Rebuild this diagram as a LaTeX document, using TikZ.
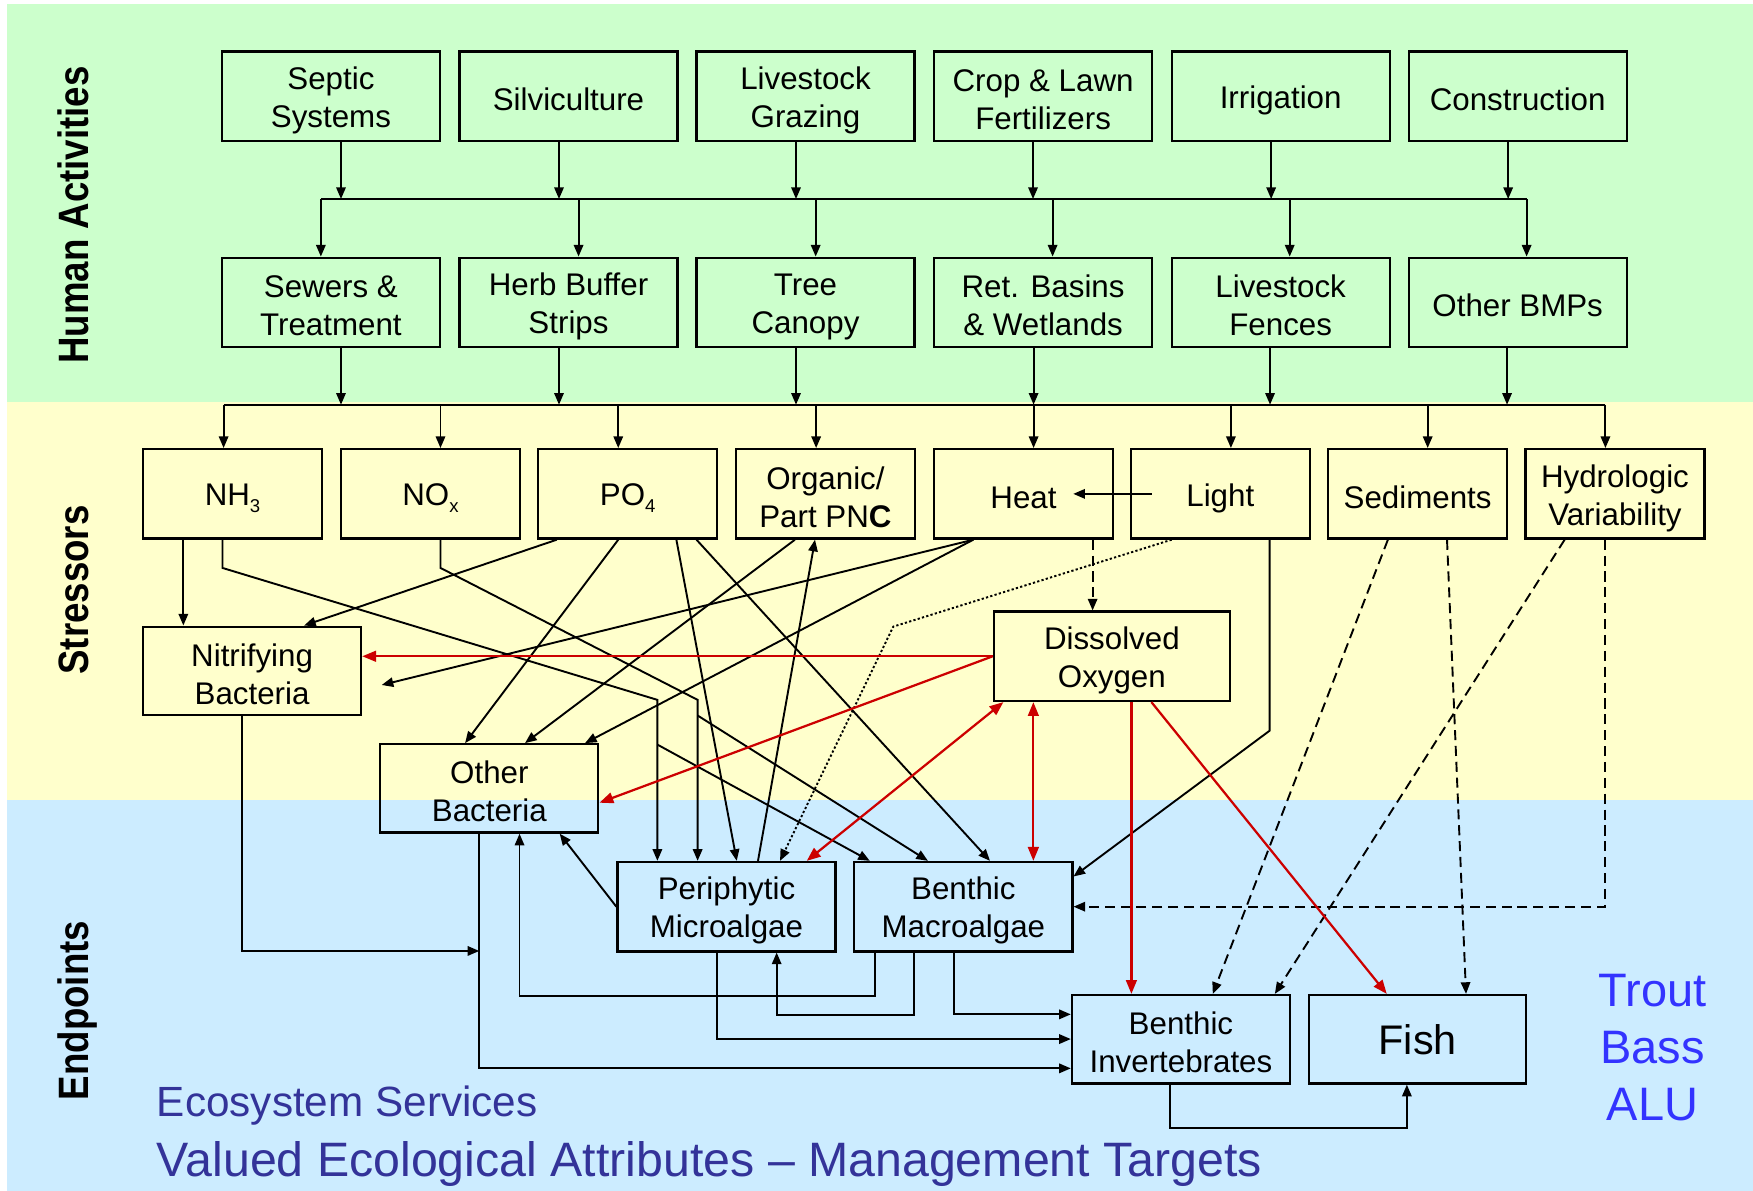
\documentclass[tikz,border=0pt]{standalone}
\usepackage{fontspec}
\setmainfont{Liberation Sans}
\usetikzlibrary{arrows.meta}
\definecolor{bggreen}{HTML}{CCFFCC}
\definecolor{bgyellow}{HTML}{FFFFCC}
\definecolor{bgblue}{HTML}{CCECFF}
\definecolor{rd}{HTML}{CC0000}
\definecolor{ecoblue}{HTML}{333399}
\definecolor{fishblue}{HTML}{3333FF}
\newcommand\ls{\rule[-1pt]{0pt}{14.8pt}}
\newcommand\sbs[1]{\raisebox{-3pt}{\fontsize{8.3}{8.3}\selectfont #1}}
\begin{document}
\begin{tikzpicture}[x=0.5pt,y=-0.5pt,
  box/.style={draw, line width=1pt, minimum width=97.5pt, minimum height=40pt, inner sep=0pt, align=center, font=\fontsize{14}{17}\selectfont},
  sbox/.style={box, minimum width=80pt},
  con/.style={line width=0.85pt, -{Triangle[length=5.2pt,width=4.2pt]}},
  ln/.style={line width=0.85pt},
  dsh/.style={con, dash pattern=on 4.5pt off 2.6pt},
  dtd/.style={con, dash pattern=on 1pt off 1pt},
  rcon/.style={color=rd, line width=1pt, -{Triangle[length=6.2pt,width=4.8pt]}},
  rcon2/.style={color=rd, line width=1pt, {Triangle[length=6.2pt,width=4.8pt]}-{Triangle[length=6.2pt,width=4.8pt]}},
  side/.style={rotate=90, anchor=base, inner sep=0pt, font=\fontsize{19}{22}\selectfont\bfseries},
  blue1/.style={inner sep=0pt, text=ecoblue},
  blue2/.style={inner sep=0pt, anchor=base, text=fishblue, font=\fontsize{21}{25}\selectfont}
]
\useasboundingbox (0,0) rectangle (1568,1065);
\fill[white] (0,0) rectangle (1568,1065);
\fill[bggreen] (6,4) rectangle (1568,360);
\fill[bgyellow] (6,360) rectangle (1568,716);
\fill[bgblue] (6,716) rectangle (1568,1065);

% side labels
\node[side] (lha) at (79,192.3) {\scalebox{0.863}[1]{Human Activities}};
\node[side] (lst) at (79,527.8) {\scalebox{0.863}[1]{Stressors}};
\node[side] (len) at (79,903.9) {\scalebox{0.863}[1]{Endpoints}};

% row 1
\node[box] (sept) at (296,86) {\ls Septic\\\ls Systems};
\node[box] (silv) at (508.5,86) {\ls Silviculture};
\node[box] (lgraz) at (720.5,86) {\ls Livestock\\\ls Grazing};
\node[box] (crop) at (933,86) {\ls Crop \& Lawn\\\ls Fertilizers};
\node[box] (irr) at (1145.5,86) {\ls Irrigation};
\node[box] (cons) at (1357.5,86) {\ls Construction};
% row 2
\node[box] (sew) at (296,270.5) {\ls Sewers \&\\\ls Treatment};
\node[box] (herb) at (508.5,270.5) {\ls Herb Buffer\\\ls Strips};
\node[box] (tree) at (720.5,270.5) {\ls Tree\\\ls Canopy};
\node[box] (ret) at (933,270.5) {\ls Ret. Basins\\\ls \& Wetlands};
\node[box] (lfen) at (1145.5,270.5) {\ls Livestock\\\ls Fences};
\node[box] (bmp) at (1357.5,270.5) {\ls Other BMPs};
% stressors
\node[sbox] (nh3) at (208,441.75) {\ls NH\sbs{3}};
\node[sbox] (nox) at (385,441.75) {\ls NO\sbs{x}};
\node[sbox] (po4) at (561.5,441.75) {\ls PO\sbs{4}};
\node[sbox] (org) at (738.3,441.75) {\ls Organic/\\\ls Part PN\textbf{C}};
\node[sbox] (heat) at (915.5,441.75) {\ls Heat};
\node[sbox] (light) at (1091.5,441.75) {\ls Light};
\node[sbox] (sed) at (1268,441.75) {\ls Sediments};
\node[sbox] (hyd) at (1444.5,441.75) {\ls Hydrologic\\\ls Variability};
% intermediates and endpoints
\node[box, minimum width=105.5pt] (do) at (994.5,587) {\ls Dissolved\\\ls Oxygen};
\node[box, minimum height=39.5pt] (nit) at (225.5,600) {\ls Nitrifying\\\ls Bacteria};
\node[box, minimum height=39.5pt] (oth) at (437.7,705.2) {\ls Other\\\ls Bacteria};
\node[box] (peri) at (649.8,811) {\ls Periphytic\\\ls Microalgae};
\node[box] (mac) at (861.7,811) {\ls Benthic\\\ls Macroalgae};
\node[box, minimum height=39.6pt] (inv) at (1056.3,929.6) {\ls Benthic\\\ls Invertebrates};
\node[box, minimum height=39.6pt, minimum width=97pt, font=\fontsize{18.5}{22}\selectfont] (fish) at (1268,929.6) {Fish};

% texts
\node[blue1, anchor=base west, font=\fontsize{18.9}{22}\selectfont] (eco) at (140,999) {Ecosystem Services};
\node[blue1, anchor=base west, font=\fontsize{21.6}{25}\selectfont] (vea) at (140,1052) {Valued Ecological Attributes \textendash{} Management Targets};
\node[blue2] (trout) at (1478,900) {Trout};
\node[blue2] (bass) at (1478,951) {Bass};
\node[blue2] (alu) at (1478,1002) {ALU};

% human activities buses
\coordinate (b1L) at (287,178);
\coordinate (b1R) at (1365.5,178);
\draw[ln] (b1L) -- (b1R);
\foreach \n/\x in {sept/305, silv/500, lgraz/712, crop/924, irr/1137, cons/1349}
  \draw[con] (\n.south -| \x,0) -- (b1L -| \x,0);
\foreach \n/\x in {sew/287, herb/517.5, tree/729.6, ret/941.5, lfen/1153.6, bmp/1365.5}
  \draw[con] (b1L -| \x,0) -- (\n.north -| \x,0);
\coordinate (b2L) at (200,362);
\coordinate (b2R) at (1436,362);
\draw[ln] (b2L) -- (b2R);
\foreach \n/\x in {sew/305, herb/500, tree/712, ret/924.5, lfen/1136, bmp/1348}
  \draw[con] (\n.south -| \x,0) -- (b2L -| \x,0);
\foreach \n/\x in {nh3/200, nox/394, po4/553, org/730, heat/924.5, light/1101, sed/1277, hyd/1436}
  \draw[con] (b2L -| \x,0) -- (\n.north -| \x,0);

% stressor connectors
\draw[con] (nh3.south -| 164,0) -- (nit.north -| 164,0);
\coordinate (j1) at (588,666);
\coordinate (j2) at (624,640);
\draw[con] (nh3.south -| 199,0) -- (199,508) -- (588,626) -- (peri.north -| 588,0);
\draw[con] (j1) -- (mac.north -| 778,0);
\draw[con] (nox.south -| 394,0) -- (394,508) -- (624,626) -- (peri.north -| 624,0);
\draw[con] (j2) -- (mac.north -| 830,0);
\draw[con] (po4.south -| 498,0) -- (nit.north -| 272,0);
\draw[con] (po4.south -| 553,0) -- (oth.north -| 416,0);
\draw[con] (po4.south -| 605,0) -- (peri.north -| 659,0);
\draw[con] (po4.south -| 623,0) -- (mac.north -| 885.5,0);
\draw[con] (org.south -| 711,0) -- (oth.north -| 469.6,0);
\draw[con] (peri.north -| 678,0) -- (org.south -| 729,0);
\coordinate (hn) at (341.4,612.7);
\draw[con] (heat.south -| 870.6,0) -- (hn);
\draw[con] (heat.south -| 870.6,0) -- (oth.north -| 523.3,0);
\draw[con] (light.west -| 1030,0) -- (heat.east -| 960,0);
\draw[con] (light.south -| 1135.6,0) -- (1135.6,653.6) -- (mac.east |- 0,784);
\draw[dtd] (light.south -| 1048,0) -- (799,560.5) -- (peri.north -| 697.7,0);
\draw[dsh] (heat.south -| 977.3,0) -- (do.north -| 977.3,0);
\draw[dsh] (sed.south -| 1241.4,0) -- (inv.north -| 1084.8,0);
\draw[dsh] (sed.south -| 1294.3,0) -- (fish.north -| 1311.3,0);
\draw[dsh] (hyd.south -| 1399.5,0) -- (inv.north -| 1140.3,0);
\draw[dsh] (hyd.south -| 1435.6,0) -- (1435.6,811) -- (mac.east);

% dissolved oxygen (red)
\draw[rcon] (do.west) -- (nit.east |- do.west);
\draw[rcon] (do.west) -- (oth.east |- 0,718);
\draw[rcon2] (do.south -| 897.5,0) -- (peri.north -| 721.6,0);
\draw[rcon2] (do.south -| 924.3,0) -- (mac.north -| 924.3,0);
\draw[rcon] (do.south -| 1012,0) -- (inv.north -| 1012,0);
\draw[rcon] (do.south -| 1029.9,0) -- (fish.north -| 1240.4,0);

% endpoint connectors
\coordinate (oj) at (428.7,850.6);
\draw[con] (nit.south -| 216.7,0) -- (216.7,850.6) -- (oj);
\draw[con] (oth.south -| 428.7,0) -- (428.7,955.6) -- (inv.west |- 0,955.6);
\draw[con] (peri.west) -- (oth.south -| 500.6,0);
\draw[con] (mac.south -| 782.4,0) -- (782.4,890.6) -- (464.7,890.6) -- (oth.south -| 464.7,0);
\draw[con] (mac.south -| 817.8,0) -- (817.8,907.6) -- (694.7,907.6) -- (peri.south -| 694.7,0);
\draw[con] (peri.south -| 641.3,0) -- (641.3,929.4) -- (inv.west |- 0,929.4);
\draw[con] (mac.south -| 853.3,0) -- (853.3,907.3) -- (inv.west |- 0,907.3);
\draw[con] (inv.south -| 1046.9,0) -- (1046.9,1008.7) -- (1258.4,1008.7) -- (fish.south -| 1258.4,0);
\end{tikzpicture}
\end{document}
